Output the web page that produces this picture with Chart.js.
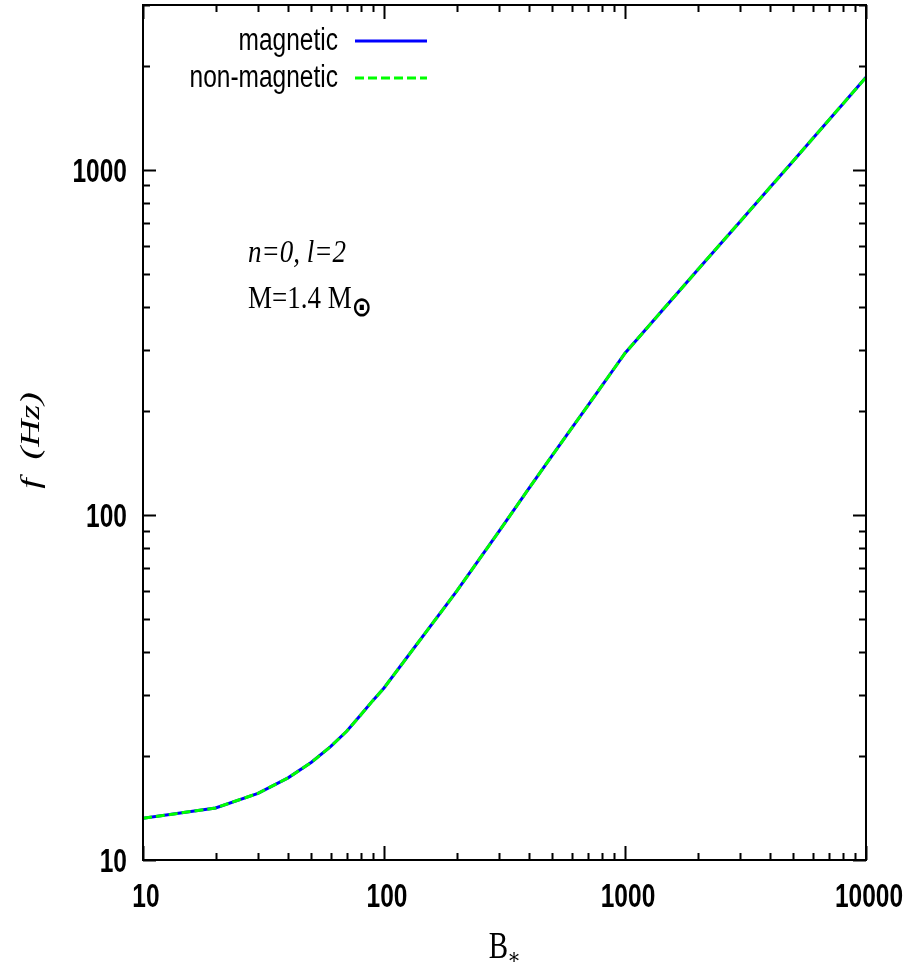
<!DOCTYPE html>
<html>
<head>
<meta charset="utf-8">
<script src="https://cdn.jsdelivr.net/npm/chart.js@4.4.0/dist/chart.umd.min.js"></script>
<style>
  html, body { margin: 0; padding: 0; background: #fff; }
  canvas { display: block; }
</style>
</head>
<body>
<canvas id="freqChart" width="910" height="976"></canvas>
<script>
// B field values (x) and mode frequencies in Hz (y)
var bField = [10, 20, 30, 40, 50, 60, 70, 80, 90, 100,
              200, 300, 400, 500, 600, 700, 800, 900, 1000,
              2000, 3000, 4000, 5000, 6000, 7000, 8000, 9000, 10000];
var magneticFreq = [13.2, 14.15, 15.6, 17.3, 19.2, 21.3, 23.6, 26.3, 29.0, 31.5,
                    60, 89.5, 119.5, 149, 178, 207, 236, 265, 294,
                    512, 707, 889, 1062, 1229, 1391, 1548, 1702, 1852];
var nonMagneticFreq = [13.2, 14.15, 15.6, 17.3, 19.2, 21.3, 23.6, 26.3, 29.0, 31.5,
                       60, 89.5, 119.5, 149, 178, 207, 236, 265, 294,
                       512, 707, 889, 1062, 1229, 1391, 1548, 1702, 1852];
var seriesNames = ['magnetic', 'non-magnetic'];
var xTickLabels = [10, 100, 1000, 10000];
var yTickLabels = [10, 100, 1000];
var xRange = [10, 10000];
var yRange = [10, 3000];

function makePoints(xs, ys) {
    var pts = [];
    for (var i = 0; i < xs.length; i++) {
        pts.push({x: xs[i], y: ys[i]});
    }
    return pts;
}

// draw text stretched vertically like the gnuplot output
function stretchText(ctx, text, x, y, sy, align) {
    ctx.save();
    ctx.translate(x, y);
    ctx.scale(1, sy);
    ctx.textAlign = align;
    ctx.textBaseline = 'alphabetic';
    ctx.fillText(text, 0, 0);
    ctx.restore();
}

// every 1..9 x 10^n value inside [lo, hi]
function logTickValues(lo, hi) {
    var vals = [];
    for (var d = Math.floor(Math.log10(lo)); d <= Math.ceil(Math.log10(hi)); d++) {
        for (var m = 1; m <= 9; m++) {
            var v = m * Math.pow(10, d);
            if (v >= lo - 1e-9 && v <= hi + 1e-9) vals.push({v: v, major: m == 1});
        }
    }
    return vals;
}

var gnuplotFrame = {
    id: 'gnuplotFrame',
    afterDatasetsDraw: function(chart) {
        var ctx = chart.ctx;
        var area = chart.chartArea;
        var xs = chart.scales.x, ys = chart.scales.y;
        ctx.save();
        ctx.strokeStyle = '#000';
        ctx.lineWidth = 2;

        // inward ticks on all four sides
        var xt = logTickValues(xRange[0], xRange[1]);
        xt.forEach(function(t) {
            var px = Math.round(xs.getPixelForValue(t.v)) + 0.5;
            var len = t.major ? 14 : 7;
            ctx.beginPath();
            ctx.moveTo(px, area.bottom); ctx.lineTo(px, area.bottom - len);
            ctx.moveTo(px, area.top); ctx.lineTo(px, area.top + len);
            ctx.stroke();
        });
        var yt = logTickValues(yRange[0], yRange[1]);
        yt.forEach(function(t) {
            var py = Math.round(ys.getPixelForValue(t.v)) + 0.5;
            var len = t.major ? 13 : 7;
            ctx.beginPath();
            ctx.moveTo(area.left, py); ctx.lineTo(area.left + len, py);
            ctx.moveTo(area.right, py); ctx.lineTo(area.right - len, py);
            ctx.stroke();
        });
        ctx.strokeRect(area.left, area.top, area.right - area.left, area.bottom - area.top);

        // tick labels
        ctx.fillStyle = '#000';
        ctx.font = 'bold 24.5px "Liberation Sans", Arial, sans-serif';
        xTickLabels.forEach(function(v) {
            stretchText(ctx, String(v), xs.getPixelForValue(v) + 3, area.bottom + 47, 1.38, 'center');
        });
        yTickLabels.forEach(function(v) {
            stretchText(ctx, String(v), area.left - 16, ys.getPixelForValue(v) + 12, 1.38, 'right');
        });

        // axis titles
        ctx.font = '29px "Liberation Serif", "Times New Roman", serif';
        var cx = (area.left + area.right) / 2;
        var bw = ctx.measureText('B').width;
        stretchText(ctx, 'B', cx - 6, area.bottom + 98, 1.3, 'center');
        ctx.font = '20px "DejaVu Serif", serif';
        stretchText(ctx, '\u2217', cx - 6 + bw / 2 + 6, area.bottom + 104, 1.1, 'center');

        ctx.save();
        ctx.translate(32, (area.top + area.bottom) / 2 + 8);
        ctx.rotate(-Math.PI / 2);
        ctx.scale(1.35, 1);
        ctx.font = 'italic 28px "Liberation Serif", "Times New Roman", serif';
        ctx.textAlign = 'center';
        ctx.textBaseline = 'middle';
        ctx.fillText('f  (Hz)', 0, 0);
        ctx.restore();

        // annotation
        ctx.font = 'italic 27px "Liberation Serif", "Times New Roman", serif';
        stretchText(ctx, 'n=0, l=2', 248, 262, 1.15, 'left');
        ctx.font = '27px "Liberation Serif", "Times New Roman", serif';
        stretchText(ctx, 'M=1.4 M', 248, 308, 1.15, 'left');
        var mw = ctx.measureText('M=1.4 M').width;
        ctx.font = 'bold 24px "DejaVu Sans", sans-serif';
        stretchText(ctx, '\u2299', 248 + mw, 316, 1.15, 'left');

        // key, gnuplot style: text then sample line
        ctx.font = '24.5px "Liberation Sans", Arial, sans-serif';
        var keyY = [41, 78];
        for (var i = 0; i < seriesNames.length; i++) {
            var ds = chart.data.datasets[i];
            ctx.fillStyle = '#000';
            stretchText(ctx, seriesNames[i], 338, keyY[i] + 9, 1.25, 'right');
            ctx.beginPath();
            ctx.strokeStyle = ds.borderColor;
            ctx.lineWidth = ds.borderWidth;
            ctx.setLineDash(ds.borderDash || []);
            ctx.moveTo(355, keyY[i]);
            ctx.lineTo(427, keyY[i]);
            ctx.stroke();
            ctx.setLineDash([]);
        }
        ctx.restore();
    }
};

var ctx = document.getElementById('freqChart').getContext('2d');
var freqChart = new Chart(ctx, {
    type: 'line',
    data: {
        datasets: [
            {
                label: seriesNames[0],
                data: makePoints(bField, magneticFreq),
                borderColor: '#0000ff',
                borderWidth: 3,
                pointRadius: 0,
                fill: false,
                tension: 0,
                order: 1
            },
            {
                label: seriesNames[1],
                data: makePoints(bField, nonMagneticFreq),
                borderColor: '#00ff00',
                borderWidth: 3,
                borderDash: [9, 4],
                pointRadius: 0,
                fill: false,
                tension: 0,
                order: 0
            }
        ]
    },
    options: {
        responsive: false,
        animation: false,
        layout: { padding: { left: 0, top: 5, right: 44, bottom: 0 } },
        plugins: {
            legend: { display: false },
            tooltip: { enabled: false }
        },
        scales: {
            x: {
                type: 'logarithmic',
                min: xRange[0],
                max: xRange[1],
                grid: { display: false },
                border: { display: false },
                ticks: { display: false },
                afterFit: function(scale) { scale.height = 116; }
            },
            y: {
                type: 'logarithmic',
                min: yRange[0],
                max: yRange[1],
                grid: { display: false },
                border: { display: false },
                ticks: { display: false },
                afterFit: function(scale) { scale.width = 143; }
            }
        }
    },
    plugins: [gnuplotFrame]
});
</script>
</body>
</html>
